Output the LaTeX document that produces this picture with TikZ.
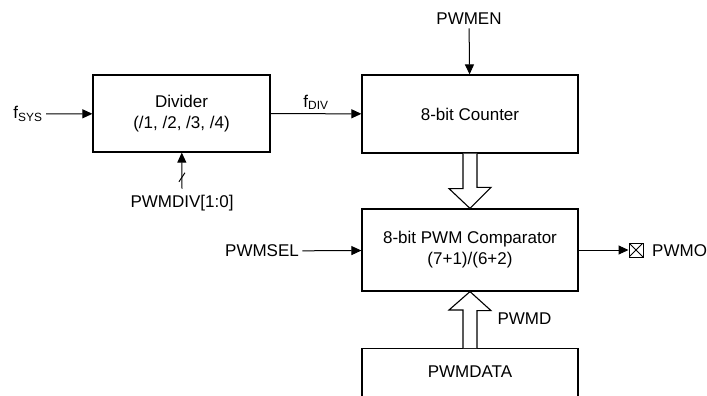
\documentclass[tikz,border=0pt]{standalone}
\usepackage{fontspec}
\setmainfont{Liberation Sans}
\usetikzlibrary{arrows.meta}
\tikzset{
  blk/.style={draw, line width=1.2pt, minimum width=216pt, minimum height=78pt, align=center, inner sep=0pt},
  sig/.style={line width=1pt, -{Triangle[length=10pt,width=9pt]}},
  fat/.style={draw, line width=1.1pt, fill=white, line join=miter},
  pin/.style={draw, line width=1pt, minimum size=14pt, inner sep=0pt,
    path picture={\draw[line width=1pt] (path picture bounding box.south west) -- (path picture bounding box.north east)
      (path picture bounding box.north west) -- (path picture bounding box.south east);}},
}
\begin{document}
\begin{tikzpicture}[x=1pt, y=-1pt, font=\fontsize{17}{21}\selectfont]
   \clip (0,0) rectangle (707,396);
   \node[blk, minimum width=177pt, minimum height=77pt] (div) at (181.5,113.5) {Divider\\(/1, /2, /3, /4)};
   \node[blk] (cnt) at (470,114) {8-bit Counter};
   \node[blk, minimum height=82pt] (cmp) at (470,250) {8-bit PWM Comparator\\(7+1)/(6+2)};
   \node[blk, minimum height=70pt, anchor=north] (dat) at (470,348) {};
   \node (dattxt) at (470,372) {PWMDATA};
   \node (fsys) at (28,114) {f\textsubscript{SYS}};
   \node (pwmen) at (469,19) {PWMEN};
   \node (pwmdiv) at (182,203) {PWMDIV[1:0]};
   \node (pwmsel) at (262,251) {PWMSEL};
   \node[pin] (out) at (636,250) {};
   \node[anchor=west, inner sep=0pt] (pwmo) at (652,251) {PWMO};
   \draw[sig] (fsys) -- (div);
   \draw[sig] (div) -- node[above] (fdiv) {f\textsubscript{DIV}} (cnt);
   \draw[sig] (pwmen) -- (cnt);
   \draw[sig] ([yshift=3pt]pwmdiv.north) -- coordinate[pos=0.3] (bus) (div);
   \draw[line width=1pt] (bus) ++(-3,4) -- ++(6,-9);
   \draw[sig] (pwmsel) -- (cmp);
   \draw[sig] (cmp.east |- out) -- (out);
   \draw[fat] ([xshift=-7pt]cnt.south) -- ++(0,35) -- ++(-14,0) -- (cmp.north) -- ++(21,-21) -- ++(-14,0) -- ([xshift=7pt]cnt.south);
   \draw[fat] ([xshift=-7pt]dat.north) -- ++(0,-38) -- ++(-14,0) -- (cmp.south) -- ++(21,19) -- ++(-14,0) -- ([xshift=7pt]dat.north);
   \node[anchor=west] (pwmd) at (494,319) {PWMD};
\end{tikzpicture}
\end{document}
